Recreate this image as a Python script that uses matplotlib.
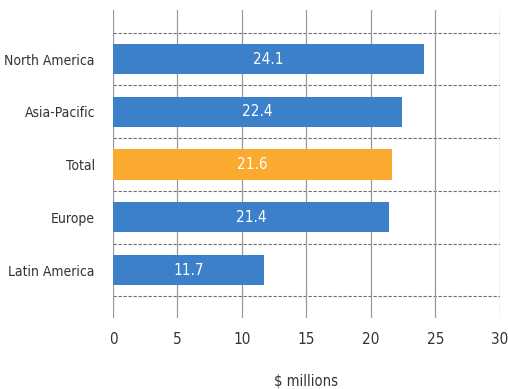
import matplotlib.pyplot as plt
import numpy as np

regions = ['North America', 'Asia-Pacific', 'Total', 'Europe', 'Latin America']
values = [24.1, 22.4, 21.6, 21.4, 11.7]
colors = ['#3b80c9', '#3b80c9', '#f9aa2f', '#3b80c9', '#3b80c9']
xticks = [0, 5, 10, 15, 20, 25, 30]

plt.rcParams['font.family'] = ['DejaVu Sans']
plt.rcParams['font.stretch'] = 'condensed'

fig = plt.figure(figsize=(5.08, 3.89), dpi=100)
ax = fig.add_axes([0.2224, 0.1825, 0.7616, 0.7918])

y = np.arange(len(regions))
bars = ax.barh(y, values, height=0.57, color=colors, zorder=3)

for i, v in enumerate(values):
    ax.text(v / 2, i, f'{v}', color='white', ha='center', va='center',
            fontsize=11, zorder=4)

# dashed separators between the categories
for b in np.arange(-0.5, len(regions), 1.0):
    ax.axhline(b, color='#707070', lw=0.8, ls=(0, (3, 1.5)), zorder=1)

ax.set_xlim(0, 30)
ax.set_ylim(len(regions) - 1 + 0.91, -0.93)
ax.set_xticks(xticks)
ax.set_yticks(y)
ax.set_yticklabels(regions, fontsize=10)
ax.tick_params(axis='both', length=0, colors='#333333')
ax.tick_params(axis='x', pad=10, labelsize=11)
ax.tick_params(axis='y', pad=13)
ax.xaxis.grid(True, color='#999999', lw=0.9, zorder=0)
for s in ax.spines.values():
    s.set_visible(False)

ax.set_xlabel('$ millions', fontsize=10.5, color='#333333', labelpad=19)

plt.savefig('out.png', dpi=100)
